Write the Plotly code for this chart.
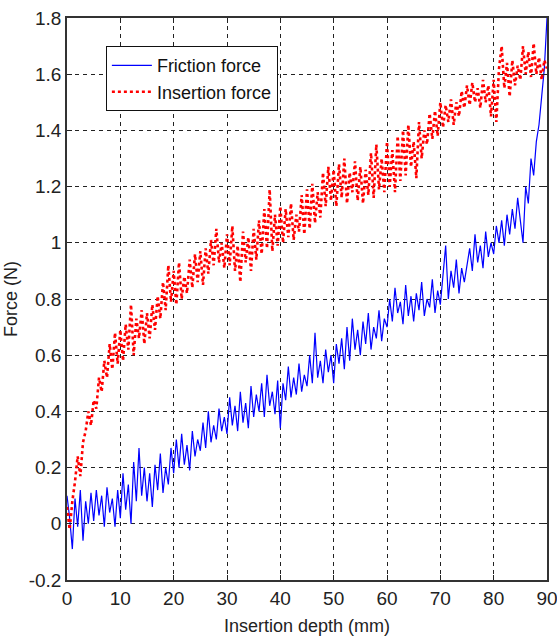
import numpy as np
import plotly.graph_objects as go

# Insertion depth (mm), sampled every 0.5 mm
depth = [i * 0.5 for i in range(181)]

friction_force = [
    0.10, 0.02, -0.09, 0.09, -0.01, 0.12, -0.06, 0.08, 0.00, 0.11,
    0.01, 0.12, 0.03, 0.10, -0.01, 0.13, 0.04, 0.09, -0.01, 0.12,
    0.02, 0.18, 0.05, 0.14, 0.00, 0.22, 0.08, 0.27, 0.10, 0.20,
    0.08, 0.18, 0.06, 0.21, 0.12, 0.25, 0.11, 0.20, 0.14, 0.27,
    0.18, 0.30, 0.20, 0.32, 0.21, 0.28, 0.19, 0.33, 0.24, 0.30,
    0.26, 0.36, 0.27, 0.40, 0.29, 0.35, 0.30, 0.41, 0.33, 0.38,
    0.32, 0.45, 0.35, 0.42, 0.33, 0.47, 0.36, 0.43, 0.34, 0.49,
    0.38, 0.46, 0.40, 0.50, 0.38, 0.53, 0.42, 0.47, 0.39, 0.51,
    0.34, 0.50, 0.44, 0.56, 0.45, 0.52, 0.46, 0.57, 0.47, 0.53,
    0.49, 0.60, 0.50, 0.68, 0.52, 0.58, 0.50, 0.62, 0.54, 0.60,
    0.50, 0.64, 0.57, 0.66, 0.55, 0.70, 0.58, 0.73, 0.62, 0.69,
    0.60, 0.72, 0.64, 0.75, 0.62, 0.70, 0.66, 0.76, 0.65, 0.73,
    0.70, 0.80, 0.72, 0.84, 0.75, 0.79, 0.71, 0.85, 0.74, 0.81,
    0.72, 0.82, 0.76, 0.86, 0.74, 0.80, 0.77, 0.87, 0.75, 0.83,
    0.78, 0.88, 0.99, 0.80, 0.90, 0.84, 0.94, 0.82, 0.91, 0.86,
    0.92, 0.98, 0.90, 1.03, 0.93, 0.99, 0.91, 1.04, 0.95, 1.00,
    0.96, 1.06, 1.00, 1.08, 0.99, 1.10, 1.03, 1.12, 1.05, 1.16,
    1.08, 1.00, 1.20, 1.14, 1.30, 1.24, 1.36, 1.42, 1.52, 1.62,
    1.80,
]

insertion_force = [
    0.06, -0.02, 0.08, 0.15, 0.24, 0.17, 0.29, 0.33, 0.40, 0.35,
    0.44, 0.41, 0.52, 0.47, 0.58, 0.52, 0.64, 0.55, 0.68, 0.57,
    0.69, 0.58, 0.71, 0.62, 0.78, 0.60, 0.73, 0.66, 0.76, 0.64,
    0.75, 0.66, 0.78, 0.69, 0.81, 0.73, 0.86, 0.76, 0.92, 0.79,
    0.90, 0.78, 0.93, 0.80, 0.88, 0.82, 0.94, 0.84, 0.96, 0.86,
    0.97, 0.85, 0.98, 0.89, 1.01, 0.92, 1.05, 0.93, 1.00, 0.91,
    1.03, 0.92, 1.06, 0.90, 0.99, 0.86, 1.04, 0.93, 1.02, 0.90,
    1.05, 0.94, 1.08, 0.96, 1.12, 0.98, 1.19, 0.97, 1.10, 0.99,
    1.13, 1.00, 1.12, 1.02, 1.14, 1.01, 1.10, 1.04, 1.17, 1.03,
    1.19, 1.05, 1.21, 1.07, 1.18, 1.09, 1.25, 1.13, 1.27, 1.15,
    1.26, 1.13, 1.28, 1.16, 1.30, 1.14, 1.25, 1.18, 1.29, 1.15,
    1.27, 1.14, 1.26, 1.17, 1.32, 1.16, 1.35, 1.19, 1.30, 1.18,
    1.36, 1.20, 1.33, 1.18, 1.38, 1.22, 1.40, 1.24, 1.42, 1.27,
    1.36, 1.23, 1.43, 1.30, 1.40, 1.35, 1.46, 1.37, 1.47, 1.38,
    1.50, 1.41, 1.49, 1.43, 1.51, 1.42, 1.50, 1.45, 1.54, 1.48,
    1.56, 1.49, 1.57, 1.50, 1.55, 1.48, 1.58, 1.50, 1.56, 1.45,
    1.58, 1.43, 1.62, 1.70, 1.55, 1.64, 1.52, 1.65, 1.56, 1.63,
    1.58, 1.70, 1.60, 1.68, 1.59, 1.71, 1.60, 1.66, 1.58, 1.65,
    1.62,
]

x_ticks = [0, 10, 20, 30, 40, 50, 60, 70, 80, 90]
x_tick_text = ["0", "10", "20", "30", "40", "50", "60", "70", "80", "90"]
y_ticks = [-0.2, 0, 0.2, 0.4, 0.6, 0.8, 1.0, 1.2, 1.4, 1.6, 1.8]
y_tick_text = ["-0.2", "0", "0.2", "0.4", "0.6", "0.8", "1", "1.2", "1.4", "1.6", "1.8"]

FONT = "Liberation Sans, Arial, sans-serif"

fig = go.Figure()
fig.add_trace(go.Scatter(
    x=depth, y=friction_force, mode="lines", name="Friction force",
    line=dict(color="#0000ff", width=1.2),
))
fig.add_trace(go.Scatter(
    x=depth, y=insertion_force, mode="lines", name="Insertion force",
    line=dict(color="#ff0000", width=2.6, dash="dot"),
))

axis_common = dict(
    showline=True, linecolor="#333333", linewidth=1.5, mirror="ticks",
    showgrid=True, gridcolor="#222222", gridwidth=1, griddash="4px,4px",
    zeroline=False, ticks="inside", ticklen=5, tickcolor="#222222",
    tickfont=dict(family=FONT, size=19, color="#222222"),
    automargin=False, ticklabeloverflow="allow",
)

fig.update_layout(
    width=557, height=638,
    margin=dict(l=67, r=10, t=18, b=58),
    paper_bgcolor="white", plot_bgcolor="white",
    showlegend=True,
    legend=dict(
        x=0.081, y=0.95, xanchor="left", yanchor="top",
        bgcolor="white", bordercolor="#111111", borderwidth=1,
        font=dict(family=FONT, size=18, color="#111111"),
        tracegroupgap=0, itemwidth=40,
    ),
    xaxis=dict(
        range=[0, 90], tickvals=x_ticks, ticktext=x_tick_text,
        title=dict(text="Insertion depth (mm)", standoff=12,
                   font=dict(family=FONT, size=18, color="#222222")),
        **axis_common,
    ),
    yaxis=dict(
        range=[-0.2, 1.8], tickvals=y_ticks, ticktext=y_tick_text,
        title=dict(text="Force (N)", standoff=6,
                   font=dict(family=FONT, size=18, color="#222222")),
        **axis_common,
    ),
)

fig.write_html("out.html")
